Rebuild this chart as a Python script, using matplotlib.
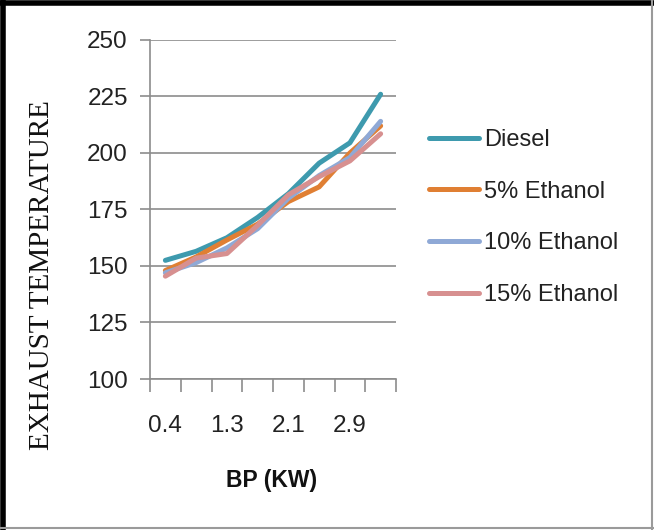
import numpy as np
import matplotlib
matplotlib.use("Agg")
import matplotlib.pyplot as plt
from matplotlib.lines import Line2D

# datos
bp_labels = ['0.4', '0.9', '1.3', '1.7', '2.1', '2.5', '2.9', '3.3']
diesel = [152.5, 156.5, 162.5, 171.5, 182, 195.5, 204.5, 226]
eth5 = [148, 154, 161.5, 168.5, 178.5, 185, 200, 212]
eth10 = [147, 151.5, 158, 166.5, 180, 190, 198, 214]
eth15 = [145.5, 153.5, 155.5, 168, 181.5, 189.5, 196.5, 208.5]

series = [('Diesel', diesel, '#3E9AAE'),
          ('5% Ethanol', eth5, '#E07F33'),
          ('10% Ethanol', eth10, '#8FA9D6'),
          ('15% Ethanol', eth15, '#D79090')]

W, H = 654, 530
fig = plt.figure(figsize=(W / 100, H / 100), dpi=100)
ax = fig.add_axes([150 / W, 1 - 379 / H, 246 / W, 339 / H])

x = np.arange(1, len(bp_labels) + 1)
for name, vals, col in series:
    ax.plot(x, vals, color=col, lw=3.6, label=name, solid_capstyle='round')

ax.set_xlim(0.5, len(bp_labels) + 0.5)
ax.set_ylim(100, 250)
ax.set_yticks(np.arange(100, 251, 25))
ax.grid(axis='y', color='#8c8c8c', lw=1.2)
ax.set_axisbelow(True)

# ticks del eje x en los bordes de categoria, etiquetas cada dos
ax.set_xticks(np.arange(0.5, len(bp_labels) + 1, 1))
ax.set_xticklabels([])
ax.set_xticks(x[::2], minor=True)
ax.set_xticklabels(bp_labels[::2], minor=True)
ax.tick_params(axis='x', which='major', length=9, width=1.2, color='#8c8c8c', direction='out')
ax.tick_params(axis='x', which='minor', length=0, pad=26, labelsize=17.5, labelcolor='#222222')
ax.tick_params(axis='y', length=7, width=1.2, color='#8c8c8c', labelsize=17.5, labelcolor='#222222', pad=9)
for lab in ax.get_xticklabels(minor=True) + ax.get_yticklabels():
    lab.set_family('Liberation Sans')

for s in ['top', 'right']:
    ax.spines[s].set_visible(False)
for s in ['left', 'bottom']:
    ax.spines[s].set_color('#8c8c8c')
    ax.spines[s].set_linewidth(1.2)

fig.text(272 / W, 1 - 481 / H, 'BP (KW)', ha='center', va='center',
         fontsize=16.5, fontweight='bold', family='Liberation Sans', color='#111111')
fig.text(42 / W, 1 - 275 / H, 'EXHAUST TEMPERATURE', ha='center', va='center',
         rotation=90, fontsize=21, family='Liberation Serif', color='#111111')

leg = fig.legend(loc='center left', bbox_to_anchor=(429 / W, 1 - 217.5 / H),
                 frameon=False, borderpad=0, borderaxespad=0, handlelength=2.1,
                 handletextpad=0.25, labelspacing=1.25,
                 prop={'family': 'Liberation Sans', 'size': 17})
for t in leg.get_texts():
    t.set_color('#222222')

# marco de la imagen
fig.add_artist(Line2D([0, 1], [1 - 2.5 / H, 1 - 2.5 / H], color='black', lw=4))
fig.add_artist(Line2D([2.5 / W, 2.5 / W], [0, 1], color='black', lw=4))
fig.add_artist(Line2D([1 - 2 / W, 1 - 2 / W], [0, 1], color='#9a9a9a', lw=1.5))
fig.add_artist(Line2D([0, 1], [2 / H, 2 / H], color='#9a9a9a', lw=1.5))

fig.savefig('out.png', dpi=100)
